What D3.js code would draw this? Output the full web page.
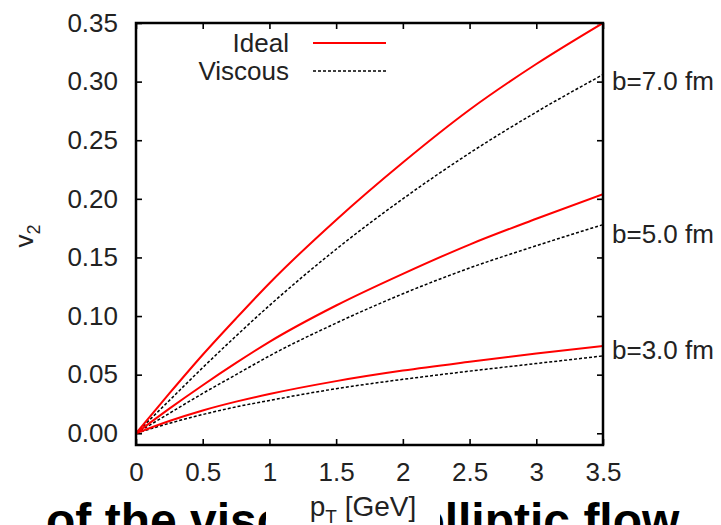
<!DOCTYPE html>
<html>
<head>
<meta charset="utf-8">
<script src="https://cdn.jsdelivr.net/npm/d3@7/dist/d3.min.js"></script>
<style>
  body { margin: 0; background: #fff; }
  svg { display: block; font-family: "Liberation Sans", Arial, sans-serif; }
</style>
</head>
<body>
<div id="vis"></div>
<script>
// pT grid and v2 values
var pT       = [0, 0.25, 0.5, 0.75, 1, 1.5, 2, 2.5, 3, 3.5];
var ideal7   = [0, 0.034, 0.067, 0.098, 0.128, 0.182, 0.231, 0.276, 0.315, 0.350];
var viscous7 = [0, 0.028, 0.056, 0.083, 0.109, 0.157, 0.200, 0.239, 0.274, 0.306];
var ideal5   = [0, 0.021, 0.041, 0.060, 0.078, 0.109, 0.136, 0.161, 0.183, 0.204];
var viscous5 = [0, 0.017, 0.034, 0.050, 0.066, 0.094, 0.119, 0.141, 0.160, 0.178];
var ideal3   = [0, 0.0105, 0.0195, 0.027, 0.0335, 0.0445, 0.0535, 0.061, 0.068, 0.0745];
var viscous3 = [0, 0.0085, 0.016, 0.0225, 0.028, 0.038, 0.046, 0.053, 0.0595, 0.066];

var xTicks = [0, 0.5, 1, 1.5, 2, 2.5, 3, 3.5];
var yTicks = [0, 0.05, 0.10, 0.15, 0.20, 0.25, 0.30, 0.35];

var impactLabels = ["b=7.0 fm", "b=5.0 fm", "b=3.0 fm"];
var impactLabelV2 = [0.293, 0.162, 0.063];

var legendNames = ["Ideal", "Viscous"];

var margin = {top: 23, right: 118, bottom: 80, left: 136};
var W = 721, H = 525;
var width = W - margin.left - margin.right;
var height = H - margin.top - margin.bottom;

var svg = d3.select("#vis").append("svg")
  .attr("width", W)
  .attr("height", H);

// cut-off slide caption behind the figure
svg.append("text")
  .attr("x", 46)
  .attr("y", 537)
  .attr("font-size", 48)
  .attr("font-weight", "bold")
  .attr("fill", "#000")
  .text("of the viscous");
svg.append("text")
  .attr("x", 418)
  .attr("y", 537)
  .attr("font-size", 48)
  .attr("font-weight", "bold")
  .attr("fill", "#000")
  .text("elliptic flow");
svg.append("rect")
  .attr("x", 266).attr("y", 488)
  .attr("width", 174).attr("height", 37)
  .attr("fill", "#fff");

var g = svg.append("g")
  .attr("transform", "translate(" + margin.left + "," + margin.top + ")");

var x = d3.scaleLinear().domain([0, 3.5]).range([0, width]);
var y = d3.scaleLinear().domain([-0.01, 0.35]).range([height, 0]);

function styleAxis(sel) {
  sel.select(".domain").remove();
  sel.selectAll(".tick line").attr("stroke", "#000").attr("stroke-width", 1.6);
  sel.selectAll(".tick text")
    .attr("font-size", 26)
    .attr("fill", "#222")
    .attr("font-family", "Liberation Sans, Arial, sans-serif");
}

g.append("g")
  .attr("transform", "translate(0," + height + ")")
  .call(d3.axisBottom(x).tickValues(xTicks).tickSizeInner(-6).tickSizeOuter(0)
    .tickPadding(18).tickFormat(d3.format("")))
  .call(styleAxis);

g.append("g")
  .call(d3.axisTop(x).tickValues(xTicks).tickSizeInner(-6).tickSizeOuter(0).tickFormat(""))
  .call(styleAxis);

g.append("g")
  .call(d3.axisLeft(y).tickValues(yTicks).tickSizeInner(-6).tickSizeOuter(0)
    .tickPadding(18).tickFormat(d3.format(".2f")))
  .call(styleAxis);

g.append("g")
  .attr("transform", "translate(" + width + ",0)")
  .call(d3.axisRight(y).tickValues(yTicks).tickSizeInner(-6).tickSizeOuter(0).tickFormat(""))
  .call(styleAxis);

// curves
var line = d3.line()
  .x(function(d) { return x(d[0]); })
  .y(function(d) { return y(d[1]); })
  .curve(d3.curveMonotoneX);

g.append("clipPath").attr("id", "plotclip")
  .append("rect").attr("width", width).attr("height", height);

var curves = g.append("g").attr("clip-path", "url(#plotclip)");

[viscous7, viscous5, viscous3].forEach(function(s) {
  curves.append("path")
    .datum(pT.map(function(p, i) { return [p, s[i]]; }))
    .attr("d", line)
    .attr("fill", "none")
    .attr("stroke", "#000")
    .attr("stroke-width", 1.5)
    .attr("stroke-dasharray", "3,2");
});

[ideal7, ideal5, ideal3].forEach(function(s) {
  curves.append("path")
    .datum(pT.map(function(p, i) { return [p, s[i]]; }))
    .attr("d", line)
    .attr("fill", "none")
    .attr("stroke", "#f00")
    .attr("stroke-width", 2);
});

// frame
g.append("rect")
  .attr("width", width)
  .attr("height", height)
  .attr("fill", "none")
  .attr("stroke", "#000")
  .attr("stroke-width", 2.5);

// legend
var legend = g.selectAll(".legend")
  .data(legendNames)
  .enter().append("g")
  .attr("transform", function(d, i) { return "translate(0," + (i * 28) + ")"; });

legend.append("text")
  .attr("x", 153)
  .attr("y", 29)
  .attr("text-anchor", "end")
  .attr("font-size", 26)
  .attr("fill", "#222")
  .text(function(d) { return d; });

legend.append("line")
  .attr("x1", 177).attr("x2", 250)
  .attr("y1", 20).attr("y2", 20)
  .attr("stroke", function(d, i) { return i === 0 ? "#f00" : "#000"; })
  .attr("stroke-width", function(d, i) { return i === 0 ? 2 : 1.5; })
  .attr("stroke-dasharray", function(d, i) { return i === 0 ? null : "3,2"; });

// impact-parameter labels on the right
g.selectAll(".blabel")
  .data(impactLabels)
  .enter().append("text")
  .attr("x", width + 9)
  .attr("y", function(d, i) { return y(impactLabelV2[i]); })
  .attr("font-size", 26)
  .attr("fill", "#222")
  .text(function(d) { return d; });

// axis titles
var yt = svg.append("text")
  .attr("transform", "translate(33,236) rotate(-90)")
  .attr("text-anchor", "middle")
  .attr("font-size", 26)
  .attr("fill", "#222");
yt.append("tspan").text("v");
yt.append("tspan").attr("font-size", 18).attr("dy", 7).text("2");

var xt = svg.append("text")
  .attr("x", 363)
  .attr("y", 516)
  .attr("text-anchor", "middle")
  .attr("font-size", 28)
  .attr("fill", "#222");
xt.append("tspan").text("p");
xt.append("tspan").attr("font-size", 19).attr("dy", 7).text("T");
xt.append("tspan").attr("dy", -7).text(" [GeV]");
</script>
</body>
</html>
